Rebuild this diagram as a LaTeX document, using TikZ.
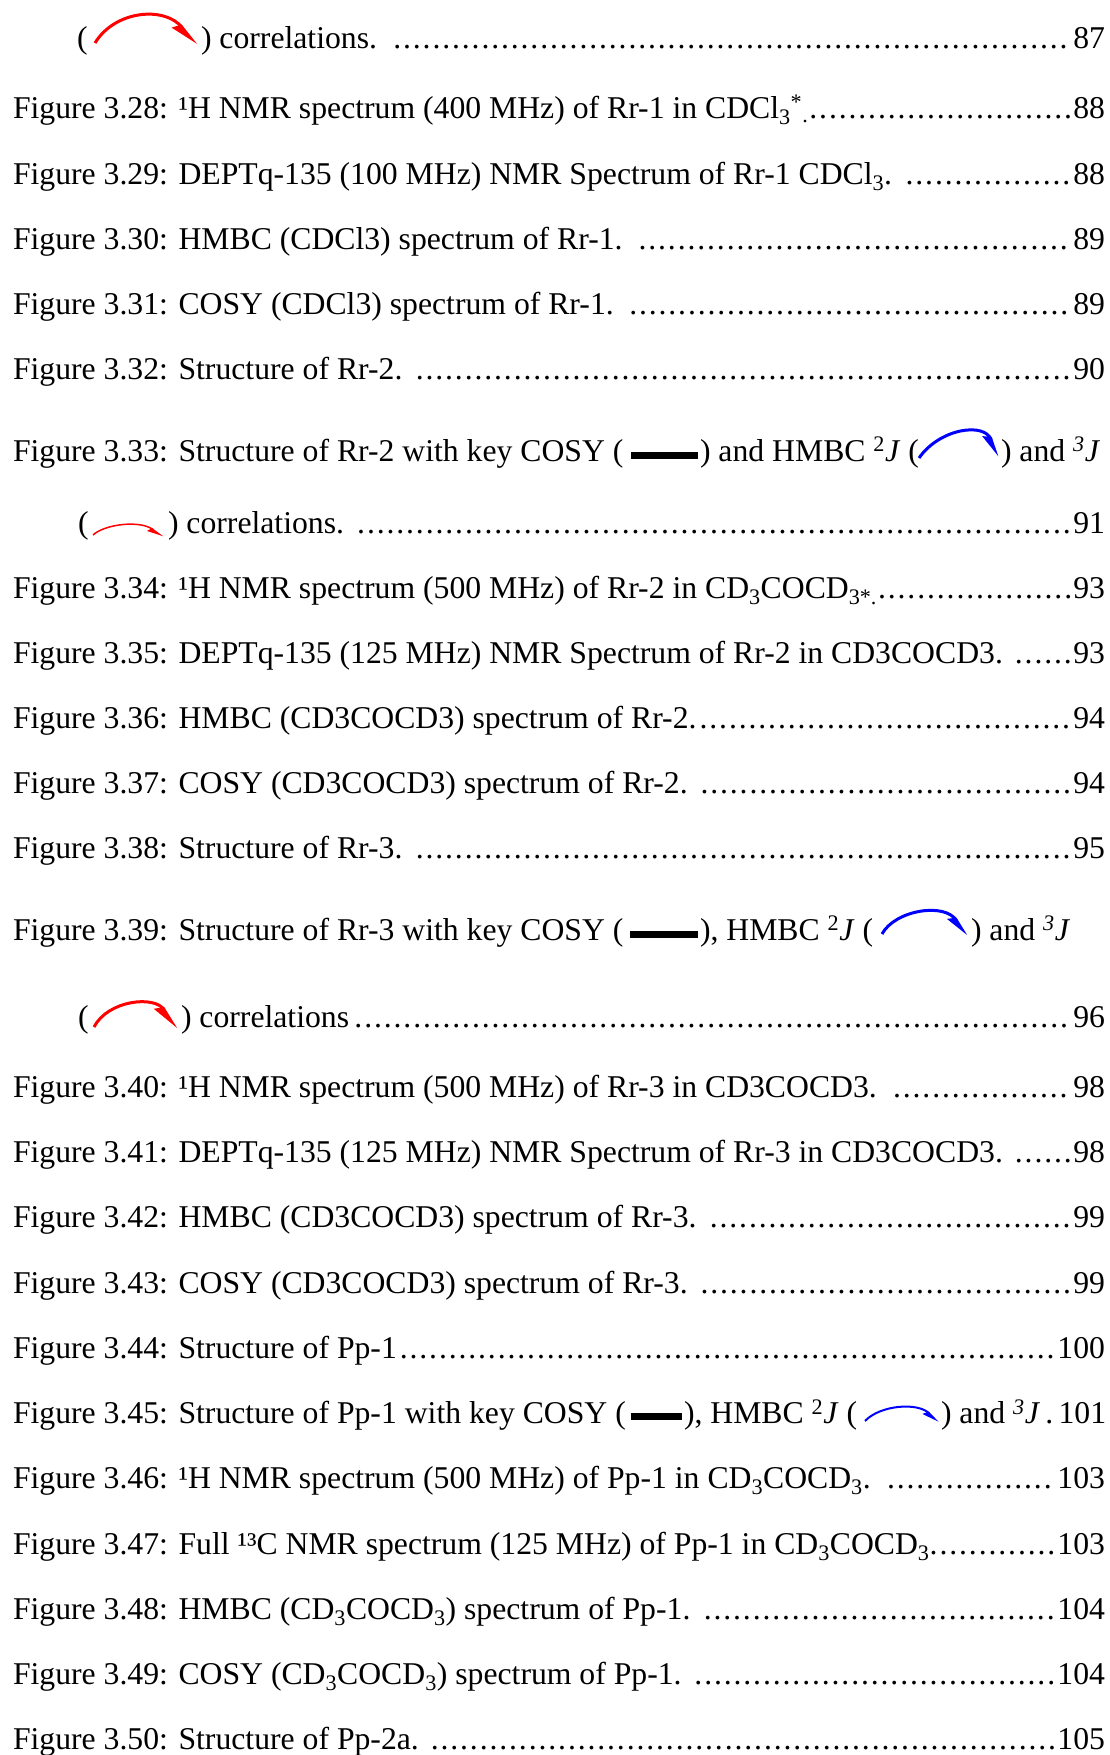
\documentclass[tikz,border=0pt]{standalone}
\usepackage{fontspec}
\setmainfont{Liberation Serif}
\usetikzlibrary{arrows.meta}
\newcommand{\tocdots}{\cleaders\hbox to 9.8pt{\hss.\hss}\hfill}
\newcommand{\tocrow}[1]{\hbox to 1092pt{#1}}
\begin{document}
\begin{tikzpicture}[x=1pt,y=-1pt,
  every node/.style={inner sep=0pt, outer sep=0pt, anchor=base west, font=\fontsize{31.7}{38}\selectfont},
  cosybar/.style={line width=7pt, black},
  thrj/.style={red, line width=3pt, -{Stealth[harpoon,swap,length=24pt,width=16pt,inset=3pt]}},
  thrjthin/.style={red, line width=1.5pt, -{Stealth[harpoon,swap,length=14pt,width=9pt,inset=2pt]}},
  twoj/.style={blue, line width=3pt, -{Stealth[harpoon,swap,length=20pt,width=14pt,inset=3pt]}},
  twojthin/.style={blue, line width=2pt, -{Stealth[harpoon,swap,length=14pt,width=10pt,inset=2pt]}}]
\useasboundingbox (0,0) rectangle (1110,1755);
\fill[white] (0,0) rectangle (1110,1755);

% line: end of 3.27
\node (a1) at (77,49) {(};
\node (a2) at (201,49) {\hbox to 904pt{) correlations. \tocdots 87}};
\coordinate (a1s) at (95,43); \coordinate (a1e) at (196,45);
\draw[thrj] (a1s) .. controls (115,10) and (165,6) .. (a1e);

\node (f28) at (13,118.5) {\tocrow{Figure 3.28: ¹H NMR spectrum (400 MHz) of Rr-1 in CDCl\textsubscript{3}\textsuperscript{*}\textsubscript{.}\tocdots 88}};
\node (f29) at (13,184.6) {\tocrow{Figure 3.29: DEPTq-135 (100 MHz) NMR Spectrum of Rr-1 CDCl\textsubscript{3}. \tocdots 88}};
\node (f30) at (13,249.5) {\tocrow{Figure 3.30: HMBC (CDCl3) spectrum of Rr-1. \tocdots 89}};
\node (f31) at (13,314.4) {\tocrow{Figure 3.31: COSY (CDCl3) spectrum of Rr-1. \tocdots 89}};
\node (f32) at (13,379.3) {\tocrow{Figure 3.32: Structure of Rr-2. \tocdots 90}};

% 3.33
\node (f33a) at (13,461) {Figure 3.33: Structure of Rr-2 with key COSY (};
\node (f33b) at (700,461) {) and HMBC \textsuperscript{2}\textit{J} (};
\node (f33c) at (1001,461) {) and \textsuperscript{\textit{3}}\textit{J}};
\coordinate (b33s) at (631,455); \coordinate (b33e) at (698,455);
\draw[cosybar] (b33s) -- (b33e);
\coordinate (c33s) at (919,458); \coordinate (c33e) at (997,457);
\draw[twoj] (c33s) .. controls (940,428) and (985,422) .. (c33e);
\node (f33d) at (78,533) {(};
\node (f33e) at (168,533) {\hbox to 937pt{) correlations. \tocdots 91}};
\coordinate (d33s) at (93,535); \coordinate (d33e) at (163,537);
\draw[thrjthin] (d33s) .. controls (105,524) and (140,520) .. (d33e);

\node (f34) at (13,598.6) {\tocrow{Figure 3.34: ¹H NMR spectrum (500 MHz) of Rr-2 in CD\textsubscript{3}COCD\textsubscript{3*.}\tocdots 93}};
\node (f35) at (13,663.5) {\tocrow{Figure 3.35: DEPTq-135 (125 MHz) NMR Spectrum of Rr-2 in CD3COCD3. \tocdots 93}};
\node (f36) at (13,728.4) {\tocrow{Figure 3.36: HMBC (CD3COCD3) spectrum of Rr-2.\tocdots 94}};
\node (f37) at (13,793.3) {\tocrow{Figure 3.37: COSY (CD3COCD3) spectrum of Rr-2. \tocdots 94}};
\node (f38) at (13,858.2) {\tocrow{Figure 3.38: Structure of Rr-3. \tocdots 95}};

% 3.39
\node (f39a) at (13,940) {Figure 3.39: Structure of Rr-3 with key COSY (};
\node (f39b) at (700,940) {), HMBC \textsuperscript{2}\textit{J} (};
\node (f39c) at (971,940) {) and \textsuperscript{\textit{3}}\textit{J}};
\coordinate (b39s) at (630,934); \coordinate (b39e) at (698,934);
\draw[cosybar] (b39s) -- (b39e);
\coordinate (c39s) at (882,934); \coordinate (c39e) at (966,936);
\draw[twoj] (c39s) .. controls (895,910) and (945,902) .. (c39e);
\node (f39d) at (78,1027) {(};
\node (f39e) at (181,1027) {\hbox to 924pt{) correlations\tocdots 96}};
\coordinate (d39s) at (94,1027); \coordinate (d39e) at (176,1029);
\draw[thrj] (d39s) .. controls (108,1000) and (155,995) .. (d39e);

\node (f40) at (13,1097.6) {\tocrow{Figure 3.40: ¹H NMR spectrum (500 MHz) of Rr-3 in CD3COCD3. \tocdots 98}};
\node (f41) at (13,1162.5) {\tocrow{Figure 3.41: DEPTq-135 (125 MHz) NMR Spectrum of Rr-3 in CD3COCD3. \tocdots 98}};
\node (f42) at (13,1227.4) {\tocrow{Figure 3.42: HMBC (CD3COCD3) spectrum of Rr-3. \tocdots 99}};
\node (f43) at (13,1293.4) {\tocrow{Figure 3.43: COSY (CD3COCD3) spectrum of Rr-3. \tocdots 99}};
\node (f44) at (13,1358.3) {\tocrow{Figure 3.44: Structure of Pp-1\tocdots 100}};

% 3.45
\node (f45a) at (13,1423.2) {Figure 3.45: Structure of Pp-1 with key COSY (};
\node (f45b) at (684,1423.2) {), HMBC \textsuperscript{2}\textit{J} (};
\node (f45c) at (941,1423.2) {) and \textsuperscript{\textit{3}}\textit{J}\,.\,101};
\coordinate (b45s) at (631,1416); \coordinate (b45e) at (682,1416);
\draw[cosybar] (b45s) -- (b45e);
\coordinate (c45s) at (865,1421); \coordinate (c45e) at (938,1422.5);
\draw[twojthin] (c45s) .. controls (880,1405) and (918,1402) .. (c45e);

\node (f46) at (13,1488.1) {\tocrow{Figure 3.46: ¹H NMR spectrum (500 MHz) of Pp-1 in CD\textsubscript{3}COCD\textsubscript{3}. \tocdots 103}};
\node (f47) at (13,1554.2) {\tocrow{Figure 3.47: Full ¹³C NMR spectrum (125 MHz) of Pp-1 in CD\textsubscript{3}COCD\textsubscript{3}.\tocdots 103}};
\node (f48) at (13,1619) {\tocrow{Figure 3.48: HMBC (CD\textsubscript{3}COCD\textsubscript{3}) spectrum of Pp-1. \tocdots 104}};
\node (f49) at (13,1684) {\tocrow{Figure 3.49: COSY (CD\textsubscript{3}COCD\textsubscript{3}) spectrum of Pp-1. \tocdots 104}};
\node (f50) at (13,1749) {\tocrow{Figure 3.50: Structure of Pp-2a. \tocdots 105}};
\end{tikzpicture}
\end{document}
